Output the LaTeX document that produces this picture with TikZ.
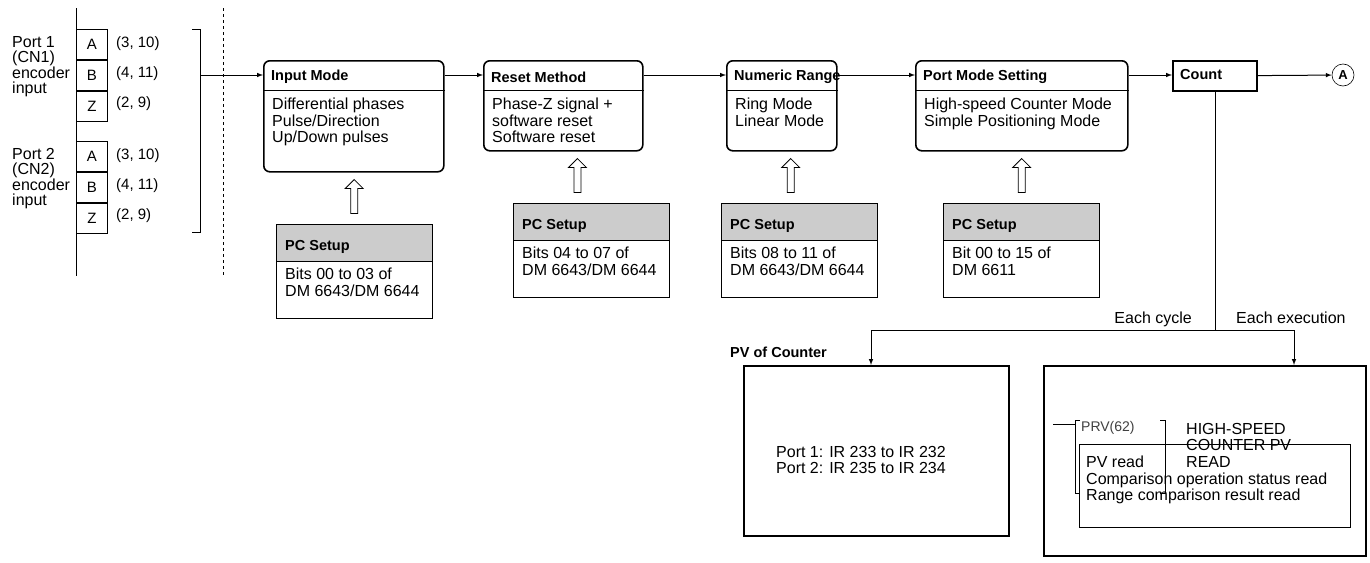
\documentclass[tikz,border=0pt]{standalone}
\usepackage{fontspec}
\setmainfont{Liberation Sans}
\usetikzlibrary{shapes.arrows,positioning,calc}

\begin{document}
\begin{tikzpicture}[x=1pt,y=-1pt, font=\fontsize{16}{16.5}\selectfont,
    proc/.style={draw, line width=1.6pt, rounded corners=6pt, anchor=north west, inner sep=0pt},
    ttl/.style={anchor=west, font=\fontsize{14.5}{16}\selectfont\bfseries, inner sep=0pt},
    txt/.style={anchor=north west, align=left, inner sep=0pt},
    head/.style={draw, line width=1.2pt, fill=gray!40, anchor=north west, inner sep=0pt},
    plain/.style={draw, line width=1.2pt, anchor=north west, inner sep=0pt},
    pin/.style={draw, line width=0.8pt, minimum width=31pt, minimum height=30pt, inner sep=0pt, font=\fontsize{15}{15}\selectfont},
    hollow/.style={single arrow, draw, line width=0.8pt, shape border rotate=90, minimum height=34pt, minimum width=18pt, single arrow head extend=3pt, inner sep=1.5pt},
    arrow/.style={-latex, line width=1pt}]
    \useasboundingbox (0,0) rectangle (1370,562);

    % encoder inputs
    \coordinate (railtop) at (76,8);
    \coordinate (railbot) at (76,276);
    \draw[line width=1pt] (railtop) -- (railbot);
    \draw[line width=1pt, dashed] (223,8) -- (223,276);
    \foreach \p/\y in {1/29, 2/141} {
        \node[pin, anchor=north west] (a\p) at (76,\y) {A};
        \node[pin, below=0pt of a\p] (b\p) {B};
        \node[pin, below=0pt of b\p] (z\p) {Z};
        \node[anchor=west, inner sep=0pt, font=\fontsize{15}{15}\selectfont] at (116,\y+15) {(3, 10)};
        \node[anchor=west, inner sep=0pt, font=\fontsize{15}{15}\selectfont] at (116,\y+45) {(4, 11)};
        \node[anchor=west, inner sep=0pt, font=\fontsize{15}{15}\selectfont] at (116,\y+75) {(2, 9)};
        \node[txt, font=\fontsize{16}{15.5}\selectfont] at (12,\y+7) {Port \p\\(CN\p)\\encoder\\input};
    }
    \draw[line width=0.8pt] (192,29) -- (200,29) -- (200,232) -- (192,232);
    \coordinate (brk) at (200,75);

    % process boxes
    \node[proc, minimum width=180pt, minimum height=111pt] (inmode) at (263,60) {};
    \node[proc, minimum width=159pt, minimum height=90pt] (reset) at (483,60) {};
    \node[proc, minimum width=110pt, minimum height=90pt] (range) at (726,60) {};
    \node[proc, minimum width=212pt, minimum height=90pt] (portmode) at (915,60) {};
    \foreach \n/\t/\b in {inmode/Input Mode/{Differential phases\\Pulse/Direction\\Up/Down pulses},
        reset/Reset Method/{Phase-Z signal +\\software reset\\Software reset},
        range/Numeric Range/{Ring Mode\\Linear Mode},
        portmode/Port Mode Setting/{High-speed Counter Mode\\Simple Positioning Mode}} {
        \node[ttl] at ($(\n.north west)+(8,17)$) {\t};
        \draw[line width=0.8pt] ($(\n.north west)+(0,30)$) -- ($(\n.north east)+(0,30)$);
        \node[txt] at ($(\n.north west)+(9,38)$) {\b};
    }
    \node[draw, line width=1.8pt, anchor=north west, minimum width=84pt, minimum height=30pt, inner sep=0pt] (count) at (1172,60) {};
    \node[ttl] at (1180,75) {Count};
    \node[draw, circle, line width=0.6pt, minimum size=22pt, inner sep=0pt, font=\fontsize{13}{13}\selectfont\bfseries] (circA) at (1343,75) {A};

    \draw[arrow] (brk) -- (inmode.west |- brk);
    \draw[arrow] (inmode.east |- brk) -- (reset.west |- brk);
    \draw[arrow] (reset.east |- brk) -- (range.west |- brk);
    \draw[arrow] (range.east |- brk) -- (portmode.west |- brk);
    \draw[arrow] (portmode.east |- brk) -- (count.west |- brk);
    \draw[arrow] (count) -- (circA);

    % PC setup boxes
    \foreach \n/\x/\y/\b in {inmode/276/224/{Bits 00 to 03 of\\DM 6643/DM 6644},
        reset/513/203/{Bits 04 to 07 of\\DM 6643/DM 6644},
        range/721/203/{Bits 08 to 11 of\\DM 6643/DM 6644},
        portmode/943/203/{Bit 00 to 15 of\\DM 6611}} {
        \node[head, minimum width=156pt, minimum height=37pt] (h\n) at (\x,\y) {};
        \node[plain, minimum width=156pt, minimum height=57pt] (s\n) at (\x,\y+37) {};
        \node[ttl] at ($(h\n.north west)+(9,23)$) {PC Setup};
        \node[txt] at ($(s\n.north west)+(9,7)$) {\b};
        \path (h\n.north) -- (\n.south) node[hollow, midway] {};
    }

    % outputs of count
    \coordinate (split) at (count.south |- 0,330);
    \coordinate (leftend) at (871,330);
    \coordinate (rightend) at (1294,330);
    \draw[line width=0.8pt] (count.south) -- (split);
    \draw[line width=0.8pt] (leftend) -- (rightend);
    \node[anchor=base east, inner sep=0pt] at (1192,323) {Each cycle};
    \node[anchor=base west, inner sep=0pt] at (1236,323) {Each execution};

    \node[plain, line width=1.6pt, minimum width=265pt, minimum height=170pt] (pvbox) at (743,365) {};
    \node[ttl] at (730,352) {PV of Counter};
    \node[txt] at (776,446) {Port 1: IR 233 to IR 232\\Port 2: IR 235 to IR 234};
    \node[plain, line width=1.6pt, minimum width=322pt, minimum height=190pt] (prvbox) at (1043,365) {};
    \draw[arrow] (leftend) -- (leftend |- pvbox.north);
    \draw[arrow] (rightend) -- (rightend |- prvbox.north);

    \draw[line width=0.8pt] (1053,424) -- (1075,424);
    \draw[line width=0.8pt] (1080,420) -- (1075,420) -- (1075,493) -- (1080,493);
    \draw[line width=0.8pt] (1160,420) -- (1165,420) -- (1165,493) -- (1160,493);
    \node[anchor=west, inner sep=0pt, text=darkgray, font=\fontsize{14}{14}\selectfont] at (1081,428) {PRV(62)};
    \node[txt] at (1186,423) {HIGH-SPEED\\COUNTER PV\\READ};
    \node[plain, line width=0.8pt, minimum width=271pt, minimum height=83pt] (inner) at (1079,444) {};
    \node[txt] at (1086,456) {PV read\\Comparison operation status read\\Range comparison result read};
\end{tikzpicture}
\end{document}
